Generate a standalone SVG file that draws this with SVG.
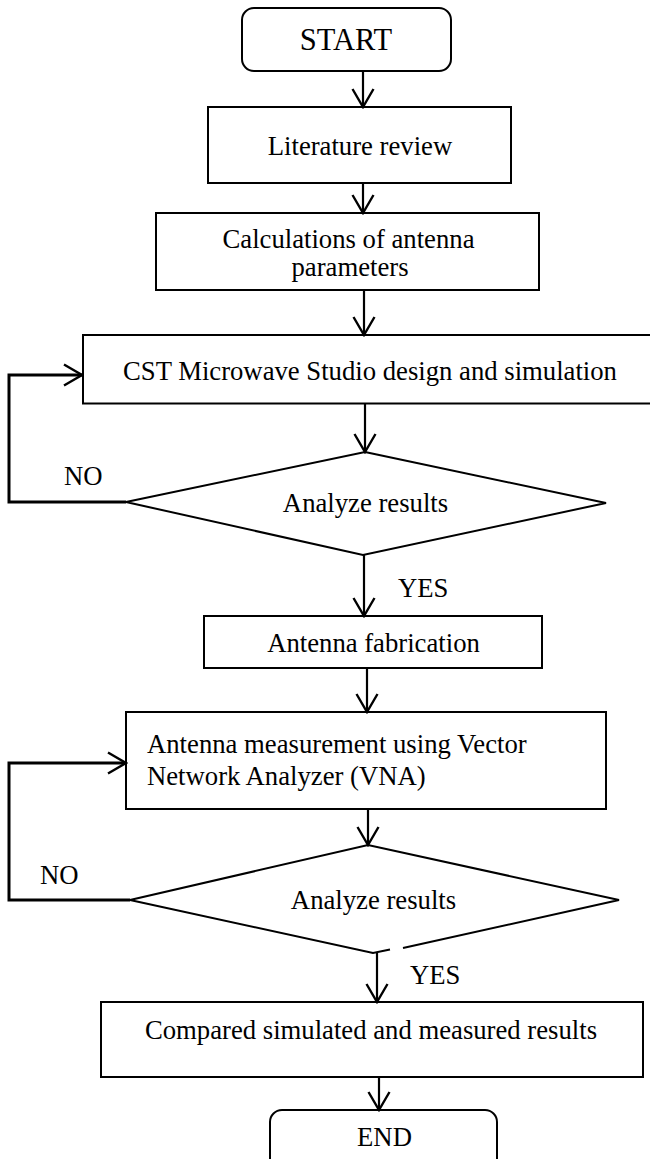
<svg xmlns="http://www.w3.org/2000/svg" width="650" height="1159" viewBox="0 0 650 1159">
<style>
.box{fill:#fff;stroke:#000;stroke-width:2}
.t{font-family:"Liberation Serif","Times New Roman",serif;font-size:26.7px;fill:#000}
.c{text-anchor:middle}
.con{fill:none;stroke:#000;stroke-width:2.2}
.loop{fill:none;stroke:#000;stroke-width:3}
</style>
<defs>
<marker id="ah" markerUnits="userSpaceOnUse" viewBox="0 0 22 26" markerWidth="22" markerHeight="26" refX="20" refY="13" orient="auto">
<path d="M2,2.5 L20,13 L2,23.5" fill="none" stroke="#000" stroke-width="2.4"/>
</marker>
</defs>
<rect width="650" height="1159" fill="#fff"/>
<g id="start">
<rect class="box" x="242" y="8" width="209" height="63" rx="12"/>
<text class="t c" x="346" y="50" style="font-size:30.5px">START</text>
</g>
<g id="literature">
<rect class="box" x="208" y="107" width="303" height="76"/>
<text class="t c" x="360" y="155">Literature review</text>
</g>
<g id="calculations">
<rect class="box" x="156" y="213" width="383" height="77"/>
<text class="t c" x="348.5" y="248">Calculations of antenna</text>
<text class="t c" x="350" y="276">parameters</text>
</g>
<g id="cst">
<rect class="box" x="83" y="335" width="570" height="68.5"/>
<text class="t c" x="370" y="380">CST Microwave Studio design and simulation</text>
</g>
<g id="decision1">
<polygon class="box" points="365,452 606,503 363,555 126,502"/>
<text class="t c" x="365.5" y="512">Analyze results</text>
</g>
<g id="fabrication">
<rect class="box" x="204" y="616" width="338" height="52"/>
<text class="t c" x="373.5" y="652">Antenna fabrication</text>
</g>
<g id="measurement">
<rect class="box" x="126" y="712" width="480" height="97"/>
<text class="t" x="147" y="753">Antenna measurement using Vector</text>
<text class="t" x="147" y="785">Network Analyzer (VNA)</text>
</g>
<g id="decision2">
<polygon points="368,845 619,900 403,948" fill="#fff" stroke="none"/>
<polygon points="368,845 619,900 373,953 130,900" fill="#fff" stroke="none"/>
<polyline class="box" style="fill:none" points="403,948 619,900 368,845 130,900 373,953 390,949.5"/>
<text class="t c" x="373.5" y="909">Analyze results</text>
</g>
<g id="compare">
<rect class="box" x="101" y="1002" width="542" height="75"/>
<text class="t c" x="371" y="1039">Compared simulated and measured results</text>
</g>
<g id="end">
<rect class="box" x="270" y="1110" width="227" height="62" rx="12"/>
<text class="t c" x="384.5" y="1146">END</text>
</g>
<g id="labels">
<text class="t" x="64" y="485">NO</text>
<text class="t" x="398" y="597">YES</text>
<text class="t" x="40" y="884">NO</text>
<text class="t" x="410" y="984">YES</text>
</g>
<g id="connectors">
<line class="con" x1="363" y1="71" x2="363" y2="107" marker-end="url(#ah)"/>
<line class="con" x1="363" y1="183" x2="363" y2="213" marker-end="url(#ah)"/>
<line class="con" x1="364" y1="290" x2="364" y2="335" marker-end="url(#ah)"/>
<line class="con" x1="365" y1="403.5" x2="365" y2="452" marker-end="url(#ah)"/>
<line class="con" x1="364" y1="555" x2="364" y2="616" marker-end="url(#ah)"/>
<line class="con" x1="367" y1="668" x2="367" y2="712" marker-end="url(#ah)"/>
<line class="con" x1="368" y1="809" x2="368" y2="845" marker-end="url(#ah)"/>
<line class="con" x1="377" y1="953" x2="377" y2="1002" marker-end="url(#ah)"/>
<line class="con" x1="379" y1="1077" x2="379" y2="1110" marker-end="url(#ah)"/>
<polyline class="loop" points="126,502 9,502 9,375 82,375" marker-end="url(#ah)"/>
<polyline class="loop" points="130,900 9,900 9,763 126,763" marker-end="url(#ah)"/>
</g>
</svg>
